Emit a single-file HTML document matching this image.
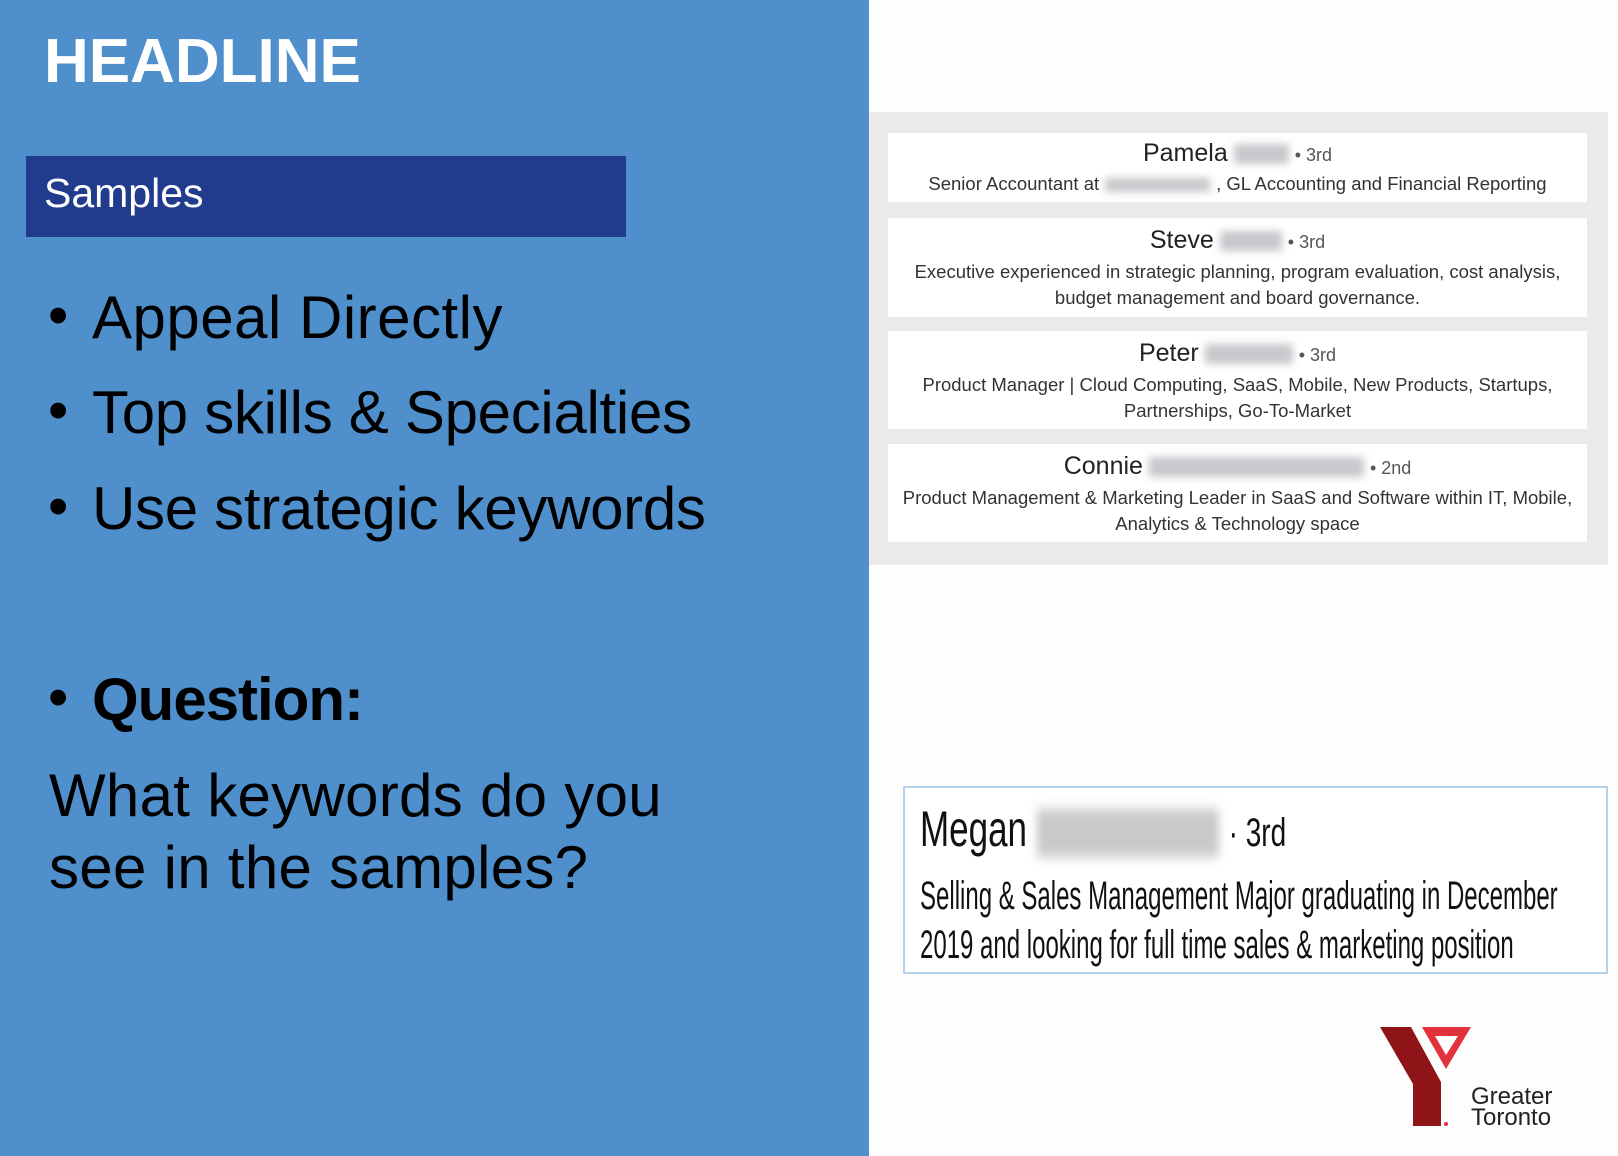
<!DOCTYPE html>
<html><head><meta charset="utf-8">
<style>
*{margin:0;padding:0;box-sizing:border-box}
body{width:1618px;height:1156px;position:relative;overflow:hidden;background:#fdfdfd;font-family:"Liberation Sans",sans-serif}
.abs{position:absolute;white-space:nowrap}
#left{position:absolute;left:0;top:0;width:869px;height:1156px;background:#4f8fcb}
.big{font-size:60px;color:#000;letter-spacing:-0.3px}
.bul{font-size:58px;color:#000}
.card{position:absolute;left:888px;width:699px;background:#fff;text-align:center;color:#333}
.nm{font-size:25px;line-height:30px;color:#222}
.deg{font-size:18px;color:#555}
.ds{font-size:18.5px;line-height:26px}
.blur{display:inline-block;height:20px;background:#c8c8cc;filter:blur(4px);vertical-align:middle;margin:0 6px}
.cond{transform-origin:0 0;color:#111}
</style></head><body>
<div id="left">
  <div class="abs" style="left:44px;top:26px;font-size:62px;font-weight:bold;color:#fff">HEADLINE</div>
  <div class="abs" style="left:26px;top:156px;width:600px;height:81px;background:#213c8c"></div>
  <div class="abs" style="left:44px;top:170px;font-size:41px;color:#fff">Samples</div>
  <div class="abs bul" style="left:48px;top:282px">•</div>
  <div class="abs big" style="left:92px;top:283px;letter-spacing:0.5px">Appeal Directly</div>
  <div class="abs bul" style="left:48px;top:377px">•</div>
  <div class="abs big" style="left:92px;top:378px">Top skills &amp; Specialties</div>
  <div class="abs bul" style="left:48px;top:473px">•</div>
  <div class="abs big" style="left:92px;top:474px">Use strategic keywords</div>
  <div class="abs bul" style="left:48px;top:664px">•</div>
  <div class="abs big" style="left:92px;top:665px;font-weight:bold;letter-spacing:-1px">Question:</div>
  <div class="abs big" style="left:49px;top:760px;line-height:72px;letter-spacing:0.3px">What keywords do you<br>see in the samples?</div>
</div>

<div class="abs" style="left:869px;top:112px;width:739px;height:453px;background:#ebe9ea"></div>

<div class="card" style="top:133px;height:69px;padding-top:5px">
  <div class="nm">Pamela<span class="blur" style="width:55px"></span><span class="deg">• 3rd</span></div>
  <div class="ds" style="margin-top:1px">Senior Accountant at<span class="blur" style="width:105px;height:14px"></span>, GL Accounting and Financial Reporting</div>
</div>
<div class="card" style="top:218px;height:99px;padding-top:7px">
  <div class="nm">Steve<span class="blur" style="width:62px"></span><span class="deg">• 3rd</span></div>
  <div class="ds" style="margin-top:2px">Executive experienced in strategic planning, program evaluation, cost analysis,<br>budget management and board governance.</div>
</div>
<div class="card" style="top:331px;height:98px;padding-top:7px">
  <div class="nm">Peter<span class="blur" style="width:88px"></span><span class="deg">• 3rd</span></div>
  <div class="ds" style="margin-top:2px">Product Manager | Cloud Computing, SaaS, Mobile, New Products, Startups,<br>Partnerships, Go-To-Market</div>
</div>
<div class="card" style="top:444px;height:98px;padding-top:7px">
  <div class="nm">Connie<span class="blur" style="width:215px"></span><span class="deg">• 2nd</span></div>
  <div class="ds" style="margin-top:2px">Product Management &amp; Marketing Leader in SaaS and Software within IT, Mobile,<br>Analytics &amp; Technology space</div>
</div>

<div class="abs" style="left:903px;top:786px;width:705px;height:188px;border:2px solid #b5d0ea;background:#fff"></div>
<div class="abs cond" style="left:920px;top:800px;font-size:50px;transform:scaleX(0.7)">Megan<span style="display:inline-block;width:260px;height:48px;background:#c9c9c9;filter:blur(6px);vertical-align:middle;margin:0 14px"></span><span style="font-size:40px">· 3rd</span></div>
<div class="abs cond" style="left:920px;top:872px;font-size:40px;line-height:49px;transform:scaleX(0.6)">Selling &amp; Sales Management Major graduating in December<br>2019 and looking for full time sales &amp; marketing position</div>

<svg class="abs" style="left:1375px;top:1022px" width="110" height="110" viewBox="0 0 110 110">
  <polygon points="5,5 36,5 66,60 66,104 38,104 38,62" fill="#8f1418"/>
  <polygon points="47,5 96,5 71,47" fill="#e2323c"/>
  <polygon points="60,14 83,14 71,33" fill="#fff"/>
  <circle cx="71" cy="102" r="2" fill="#e2323c"/>
</svg>
<div class="abs" style="left:1471px;top:1086px;font-size:24px;line-height:21px;color:#222">Greater<br>Toronto</div>
</body></html>
